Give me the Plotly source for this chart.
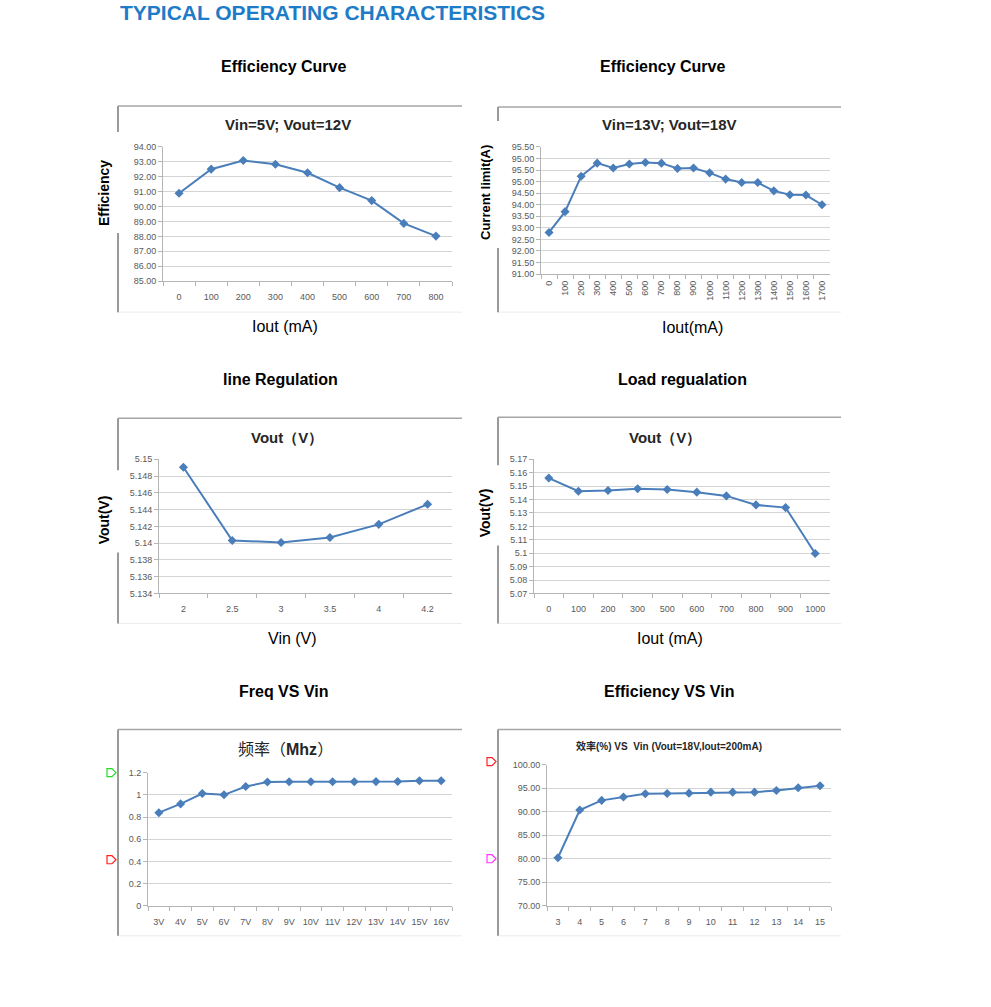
import plotly.graph_objects as go

W, H = 991, 1007

# ---------------- data ----------------
eff1_x = ["0", "100", "200", "300", "400", "500", "600", "700", "800"]
eff1_y = [90.89, 92.51, 93.09, 92.84, 92.27, 91.27, 90.40, 88.87, 88.02]

eff2_x = ["0", "100", "200", "300", "400", "500", "600", "700", "800", "900",
          "1000", "1100", "1200", "1300", "1400", "1500", "1600", "1700"]
eff2_y = [92.80, 93.70, 95.23, 95.80, 95.59, 95.76, 95.83, 95.80, 95.57, 95.59,
          95.38, 95.11, 94.96, 94.96, 94.60, 94.43, 94.42, 94.00]
eff2_tickvals = [91.0, 91.5, 92.0, 92.5, 93.0, 93.5, 94.0, 94.5, 95.0, 95.5, 96.0, 96.5]
eff2_ticktext = ["91.00", "91.50", "92.00", "92.50", "93.00", "93.50", "94.00",
                 "94.50", "95.00", "95.50", "95.00", "95.50"]

line_x = ["2", "2.5", "3", "3.5", "4", "4.2"]
line_y = [5.14905, 5.14032, 5.14008, 5.14067, 5.14224, 5.14463]

load_x = ["0", "100", "200", "300", "500", "600", "700", "800", "900", "1000"]
load_y = [5.156, 5.1462, 5.1467, 5.1480, 5.1475, 5.1455, 5.1427, 5.1360, 5.1340, 5.0998]

freq_x = ["3V", "4V", "5V", "6V", "7V", "8V", "9V", "10V", "11V", "12V", "13V",
          "14V", "15V", "16V"]
freq_y = [0.839, 0.918, 1.012, 1.000, 1.075, 1.115, 1.118, 1.118, 1.118, 1.118,
          1.119, 1.120, 1.127, 1.127]

effv_x = ["3", "4", "5", "6", "7", "8", "9", "10", "11", "12", "13", "14", "15"]
effv_y = [80.2, 90.35, 92.4, 93.13, 93.8, 93.87, 93.94, 94.15, 94.15, 94.15,
          94.5, 95.07, 95.5]

# ---------------- helpers ----------------
# empirical vertical correction for the capture (observed y_out ~= 0.989*y + 5.2)
VS, VO = 0.989, 5.2


def px(x):
    return x / W


def py(y):
    return 1 - ((y - VO) / VS) / H


BLUE = "#4a7ebb"
FONT = "Liberation Sans, Arial, sans-serif"
TICKC = "#595959"

fig = go.Figure()

charts = [
    dict(x=eff1_x, y=eff1_y, xd=(163, 452), yd=(147, 281), yr=(85, 94), dt=1, tf=".2f"),
    dict(x=eff2_x, y=eff2_y, xd=(541, 830), yd=(147, 274), yr=(91, 96.5),
         tv=eff2_tickvals, tt=eff2_ticktext, ang=-90),
    dict(x=line_x, y=line_y, xd=(159, 452), yd=(459, 593), yr=(5.134, 5.15), dt=0.002),
    dict(x=load_x, y=load_y, xd=(534, 830), yd=(459, 593), yr=(5.07, 5.17), dt=0.01),
    dict(x=freq_x, y=freq_y, xd=(148, 452), yd=(772, 905), yr=(0, 1.2), dt=0.2),
    dict(x=effv_x, y=effv_y, xd=(547, 831), yd=(764, 905), yr=(70, 100), dt=5, tf=".2f"),
]

for i, c in enumerate(charts, start=1):
    xa = "x" if i == 1 else f"x{i}"
    ya = "y" if i == 1 else f"y{i}"
    fig.add_trace(go.Scatter(
        x=c["x"], y=c["y"], xaxis=xa, yaxis=ya, mode="lines+markers",
        line=dict(color=BLUE, width=2),
        marker=dict(symbol="diamond", size=7, color=BLUE),
        showlegend=False, hoverinfo="skip"))
    xkey = "xaxis" if i == 1 else f"xaxis{i}"
    ykey = "yaxis" if i == 1 else f"yaxis{i}"
    rotated = c.get("ang") is not None
    xaxis = dict(
        domain=[px(c["xd"][0]), px(c["xd"][1])], anchor=ya, type="category",
        range=[-0.5, len(c["x"]) - 0.5],
        showgrid=False, showline=True, linecolor="#b5b5b5", linewidth=1,
        ticks="outside", tickson="boundaries", ticklen=4, tickcolor="#b5b5b5",
        tickfont=dict(family=FONT, size=9, color=TICKC), zeroline=False,
        tickangle=c.get("ang", 0), ticklabelstandoff=2 if rotated else 7,
        fixedrange=True)
    yaxis = dict(
        domain=[py(c["yd"][1]), py(c["yd"][0])], anchor=xa, range=list(c["yr"]),
        showgrid=True, gridcolor="#d4d4d4", gridwidth=1, showline=True,
        linecolor="#b5b5b5", ticks="outside", ticklen=4, tickcolor="#b5b5b5",
        tickfont=dict(family=FONT, size=9, color=TICKC), zeroline=False,
        fixedrange=True)
    if "tv" in c:
        yaxis["tickmode"] = "array"
        yaxis["tickvals"] = c["tv"]
        yaxis["ticktext"] = c["tt"]
    else:
        yaxis["dtick"] = c["dt"]
        yaxis["tick0"] = c["yr"][0]
    if "tf" in c:
        yaxis["tickformat"] = c["tf"]
    fig.update_layout(**{xkey: xaxis, ykey: yaxis})

shapes = []
frames = [
    (118, 462, 106, 312),
    (498, 841, 107, 312),
    (118, 462, 418, 623),
    (498, 841, 417, 623),
    (118, 462, 729, 935),
    (498, 841, 729, 935),
]
for x0, x1, y0, y1 in frames:
    shapes.append(dict(type="line", xref="paper", yref="paper", x0=px(x0), x1=px(x1),
                       y0=py(y0), y1=py(y0), line=dict(color="#a6a6a6", width=1.5)))
    shapes.append(dict(type="line", xref="paper", yref="paper", x0=px(x0), x1=px(x1),
                       y0=py(y1), y1=py(y1), line=dict(color="#ececec", width=1)))
    shapes.append(dict(type="line", xref="paper", yref="paper", x0=px(x0), x1=px(x0),
                       y0=py(y0), y1=py(y1), line=dict(color="#999999", width=2)))

for x0, x1, y0, y1 in [(95, 122, 132, 233), (470, 502, 121, 248),
                       (95, 122, 470, 552), (470, 502, 465, 545)]:
    shapes.append(dict(type="rect", xref="paper", yref="paper", x0=px(x0), x1=px(x1),
                       y0=py(y1), y1=py(y0), fillcolor="white", line=dict(width=0)))


def dmark(x, yc, color):
    x0, x1, xm = x, x + 5, x + 9
    t, b = yc - 4, yc + 4
    path = (f"M {px(x0)},{py(t)} L {px(x1)},{py(t)} L {px(xm)},{py(yc)} "
            f"L {px(x1)},{py(b)} L {px(x0)},{py(b)} Z")
    return dict(type="path", xref="paper", yref="paper", path=path,
                line=dict(color=color, width=1.2), fillcolor="rgba(0,0,0,0)")


shapes += [dmark(107, 772, "#22dd22"), dmark(107, 859, "#ff2020"),
           dmark(487, 761, "#ff2020"), dmark(487, 858, "#ff33ff")]

ann = []


def text(x, y, s, size, bold=False, color="black", angle=0, xanchor="center",
         family=FONT):
    ann.append(dict(xref="paper", yref="paper", x=px(x), y=py(y), text=s,
                    showarrow=False, textangle=angle, xanchor=xanchor,
                    yanchor="middle",
                    font=dict(family=family, size=size, color=color,
                              weight="bold" if bold else "normal")))


text(118, 13, "TYPICAL OPERATING CHARACTERISTICS", 21, bold=True, color="#1e7bc8",
     xanchor="left")

text(283, 67, "Efficiency Curve", 16, bold=True)
text(662, 67, "Efficiency Curve", 16, bold=True)
text(280, 379, "line Regulation", 16, bold=True)
text(682, 379, "Load regualation", 16, bold=True)
text(284, 691, "Freq VS Vin", 16, bold=True)
text(669, 691, "Efficiency VS Vin", 16, bold=True)

CT = "#262626"
text(288, 125, "Vin=5V; Vout=12V", 15, bold=True, color=CT)
text(669, 125, "Vin=13V; Vout=18V", 15, bold=True, color=CT)
text(287, 437, "Vout（V）", 15, bold=True, color=CT)
text(665, 437, "Vout（V）", 15, bold=True, color=CT)
text(285, 749, "频率（<b>Mhz</b>）", 16, color=CT,
     family="Liberation Sans, Noto Sans CJK SC, sans-serif")
text(669, 745, "效率(%) VS  Vin (Vout=18V,Iout=200mA)", 10, bold=True, color=CT,
     family="Liberation Sans, Noto Sans CJK SC, sans-serif")

text(104, 193, "Efficiency", 14, bold=True, angle=-90)
text(485, 193, "Current limit(A)", 13, bold=True, angle=-90)
text(104, 520, "Vout(V)", 14, bold=True, angle=-90)
text(485, 513, "Vout(V)", 14, bold=True, angle=-90)
text(285, 326, "Iout (mA)", 16)
text(692, 327, "Iout(mA)", 16)
text(292, 638, "Vin (V)", 16)
text(670, 638, "Iout (mA)", 16)

fig.update_layout(width=W, height=H, margin=dict(l=0, r=0, t=0, b=0),
                  paper_bgcolor="white", plot_bgcolor="white",
                  shapes=shapes, annotations=ann, showlegend=False)

post = (
    "var d=document.getElementById('{plot_id}');"
    "d.style.position='absolute';d.style.top='0px';d.style.left='0px';"
    "document.body.style.margin='0';document.body.style.padding='0';"
    "document.documentElement.style.overflow='hidden';"
    "document.body.style.overflow='hidden';"
)

fig.write_html("out.html", config={"displayModeBar": False}, post_script=post)
